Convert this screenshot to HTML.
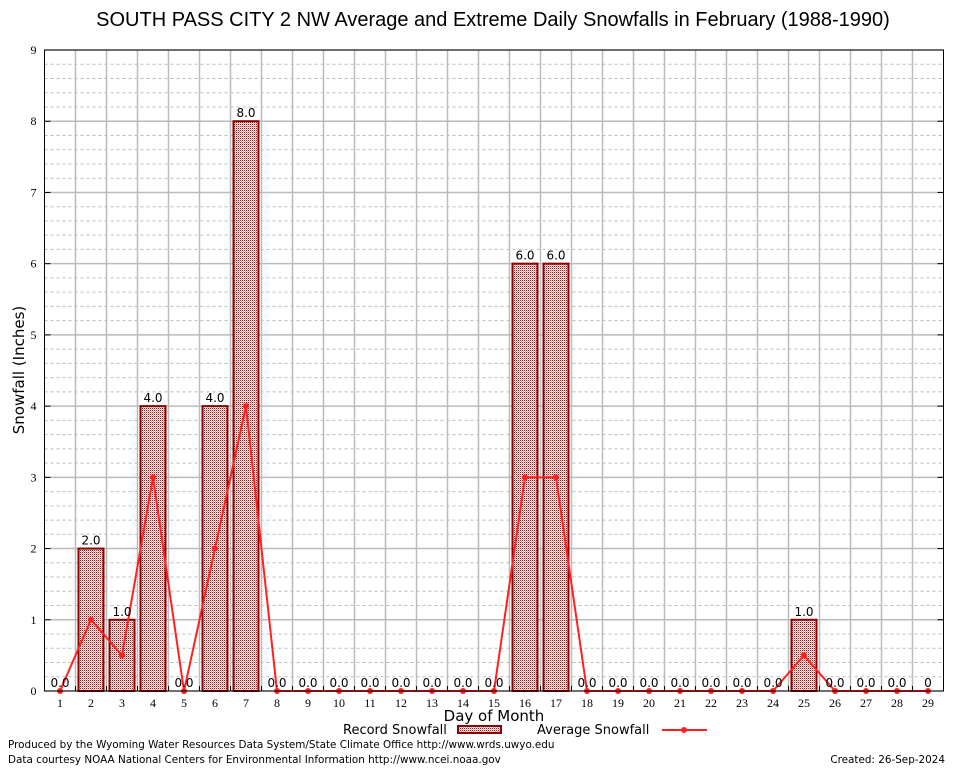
<!DOCTYPE html>
<html><head><meta charset="utf-8"><style>
body{margin:0;background:#fff}
svg{display:block}
</style></head><body>
<svg id="c" width="954" height="768" xmlns="http://www.w3.org/2000/svg">
<defs>
<pattern id="hatch" width="2" height="2" patternUnits="userSpaceOnUse">
<rect width="2" height="2" fill="#fff"/>
<rect x="0" y="0" width="1" height="1" fill="#b01010"/>
<rect x="1" y="1" width="1" height="1" fill="#e8a0a0"/>
</pattern>
</defs>
<text x="493" y="26" text-anchor="middle" font-family="Liberation Sans, sans-serif" font-size="20">SOUTH PASS CITY 2 NW Average and Extreme Daily Snowfalls in February (1988-1990)</text>
<g id="grid"></g>
<g id="bars"></g>
<g id="line"></g>
<g id="labels"></g>
<g id="axes"></g>
<text x="24" y="370" transform="rotate(-90 24 370)" text-anchor="middle" font-family="DejaVu Sans, sans-serif" font-size="15">Snowfall (Inches)</text>
<text x="494" y="721" text-anchor="middle" font-family="DejaVu Sans, sans-serif" font-size="15">Day of Month</text>
<g>
<text x="343" y="734" font-family="DejaVu Sans, sans-serif" font-size="13">Record Snowfall</text>
<rect x="458" y="726" width="43" height="7" fill="url(#hatch)" stroke="#8b0000" stroke-width="2"/>
<text x="537" y="734" font-family="DejaVu Sans, sans-serif" font-size="13">Average Snowfall</text>
<line x1="662" y1="730" x2="707" y2="730" stroke="#ff2020" stroke-width="2"/>
<circle cx="684" cy="730" r="3" fill="#ff2020"/>
</g>
<text x="8" y="748" font-family="DejaVu Sans, sans-serif" font-size="10.4">Produced by the Wyoming Water Resources Data System/State Climate Office http://www.wrds.uwyo.edu</text>
<text x="8" y="763" font-family="DejaVu Sans, sans-serif" font-size="10.4">Data courtesy NOAA National Centers for Environmental Information http://www.ncei.noaa.gov</text>
<text x="945" y="763" text-anchor="end" font-family="DejaVu Sans, sans-serif" font-size="10.4">Created:  26-Sep-2024</text>
</svg>
<script>
const days=[1,2,3,4,5,6,7,8,9,10,11,12,13,14,15,16,17,18,19,20,21,22,23,24,25,26,27,28,29];
const recordSnow=[0,2,1,4,0,4,8,0,0,0,0,0,0,0,0,6,6,0,0,0,0,0,0,0,1,0,0,0,0];
const avgSnow=[0,1,0.5,3,0,2,4,0,0,0,0,0,0,0,0,3,3,0,0,0,0,0,0,0,0.5,0,0,0,0];
const yTicks=[0,1,2,3,4,5,6,7,8,9];
const NS='http://www.w3.org/2000/svg';
const L=44.5,R=943.5,T=50,B=691,yMax=9;
const step=(R-L)/days.length;
const xs=d=>L+(d-0.5)*step;
const ys=v=>B-(v/yMax)*(B-T);
function mk(tag,attrs,parent){const e=document.createElementNS(NS,tag);for(const k in attrs)e.setAttribute(k,attrs[k]);parent.appendChild(e);return e;}
const grid=document.getElementById('grid'),bars=document.getElementById('bars'),line=document.getElementById('line'),labels=document.getElementById('labels'),axes=document.getElementById('axes');
for(let v=0;v<=yMax+1e-9;v+=0.2){const y=ys(v);const major=Math.abs(v-Math.round(v))<1e-6;
const g=mk('line',{x1:L,x2:R,y1:y,y2:y,stroke:'#bbb','stroke-width':major?1.5:1,'stroke-dasharray':major?'':'3,3'},grid);

}
for(let i=1;i<days.length;i++){const x=L+i*step;
const g=mk('line',{x1:x,x2:x,y1:T,y2:B,stroke:'#bbb','stroke-width':1.5},grid);

}
const fr=mk('rect',{x:L,y:T,width:R-L,height:B-T,fill:'none',stroke:'#000','stroke-width':1},axes);


yTicks.forEach(v=>{const y=ys(v);
mk('line',{x1:L,x2:L+6,y1:y,y2:y,stroke:'#000'},axes);mk('line',{x1:R-6,x2:R,y1:y,y2:y,stroke:'#000'},axes);
const t=mk('text',{x:L-8,y:y+4,'text-anchor':'end','font-family':'Liberation Serif, serif','font-size':12},axes);t.textContent=v;

});
days.forEach((d,i)=>{const x=xs(d);
mk('line',{x1:L+(i+1)*step,x2:L+(i+1)*step,y1:B,y2:B-5,stroke:'#000'},axes);
const t=mk('text',{x:x,y:B+16,'text-anchor':'middle','font-family':'Liberation Serif, serif','font-size':12},axes);t.textContent=d;


const v=recordSnow[i];
if(v>0){const b=mk('rect',{x:x-12.5,y:ys(v),width:25,height:B-ys(v),fill:'url(#hatch)',stroke:'#8b0000','stroke-width':2},bars);

}
const lb=mk('text',{x:x,y:ys(v)-4,'text-anchor':'middle','font-family':'DejaVu Sans, sans-serif','font-size':12},labels);
lb.textContent=(d===29)?'0':v.toFixed(1);

});
const pts=days.map((d,i)=>xs(d)+','+ys(avgSnow[i])).join(' ');
const pl=mk('polyline',{points:pts,fill:'none',stroke:'#ff2020','stroke-width':2},line);


days.forEach((d,i)=>{const c=mk('circle',{cx:xs(d),cy:ys(avgSnow[i]),r:3,fill:'#ff2020'},line);

});
</script>
</body></html>
